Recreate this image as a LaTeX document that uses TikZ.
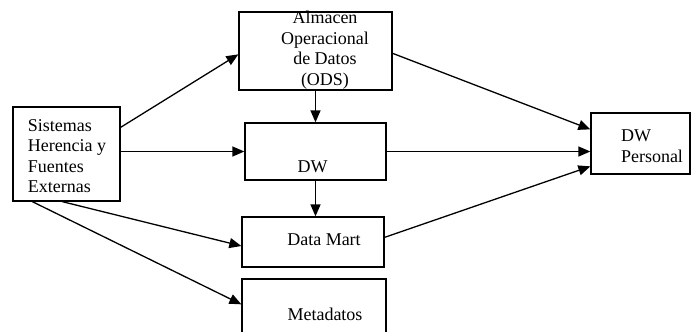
\documentclass[tikz,border=0pt]{standalone}
\usepackage{fontspec}
\setmainfont{Liberation Serif}
\usetikzlibrary{arrows.meta,calc}

\begin{document}
\begin{tikzpicture}[x=1pt,y=-1pt,
  box/.style={draw,line width=1.3pt,inner sep=0pt,minimum width=#1},
  txt/.style={font=\fontsize{18}{20.5}\selectfont,inner sep=0pt},
  flow/.style={line width=1.3pt,-{Triangle[length=12pt,width=10pt]}}]
  \clip (0,0) rectangle (691,332);
  \fill[white] (0,0) rectangle (691,332);

  % boxes
  \node[box=107pt,minimum height=94pt] (sis) at (66.5,154) {};
  \node[box=153pt,minimum height=78pt] (ods) at (315.5,51) {};
  \node[box=141pt,minimum height=57pt] (dw)  at (315.5,151.5) {};
  \node[box=142pt,minimum height=50pt] (dm)  at (313,242) {};
  \node[box=144pt,minimum height=66pt] (meta) at (314,312) {};
  \node[box=99pt,minimum height=61pt]  (dwp) at (640.5,143.5) {};

  % labels
  \node[txt,align=left]   (sist) at (67,156) {Sistemas\\Herencia y\\Fuentes\\Externas};
  \node[txt,align=center] (odst) at (325,50) {Almacen\\Operacional\\de Datos\\(ODS)};
  \node[txt] (dwt)   at (312.5,166.5) {DW};
  \node[txt] (dmt)   at (324,240) {Data Mart};
  \node[txt] (metat) at (325,314) {Metadatos};
  \node[txt,align=left] (dwpt) at (652,146) {DW\\Personal};

  % flows from the source systems
  \draw[flow] ([yshift=-21pt]sis.north east) -- ([yshift=-43pt]ods.north west);
  \draw[flow] (sis.east |- dw.west) -- (dw.west);
  \draw[flow] ([xshift=50pt]sis.south west) -- ([yshift=-4pt]dm.west);
  \draw[flow] ([xshift=20pt]sis.south west) -- ([yshift=-26pt]meta.north west);

  % vertical chain
  \draw[flow] (ods.south) -- (dw.north);
  \draw[flow] (dw.south) -- (dw.south |- dm.north);

  % flows into the personal warehouse
  \draw[flow] ([yshift=-42pt]ods.north east) -- ([yshift=-17pt]dwp.north west);
  \draw[flow] (dw.east) -- (dwp.west |- dw.east);
  \draw[flow] ([yshift=-21pt]dm.north east) -- ([yshift=-54pt]dwp.north west);
\end{tikzpicture}
\end{document}
